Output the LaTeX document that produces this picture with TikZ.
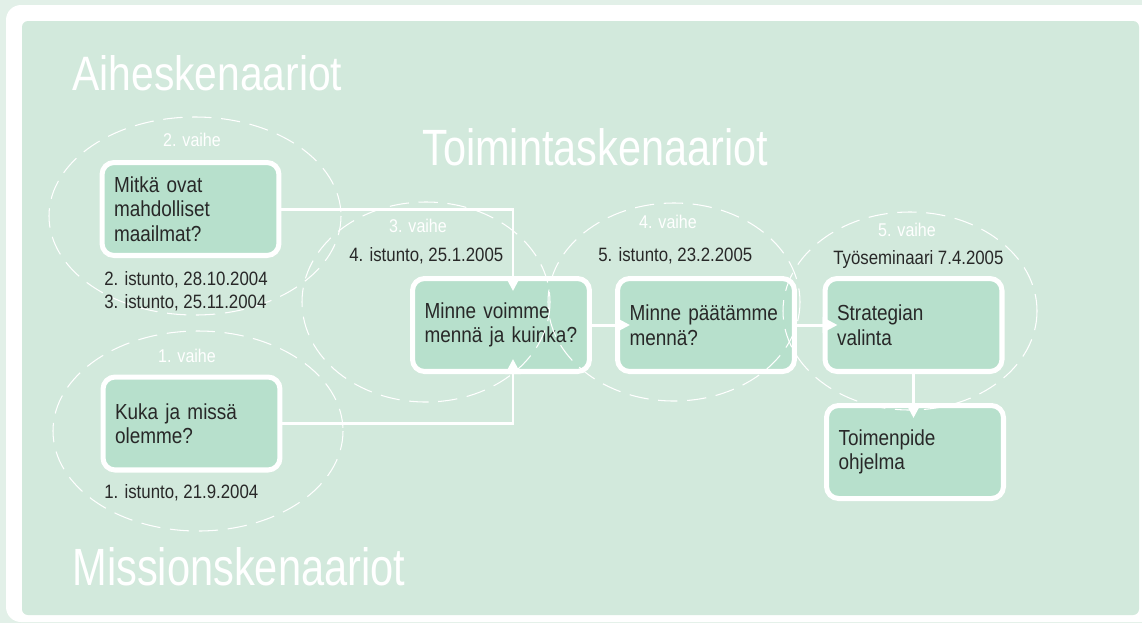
\documentclass[tikz,border=0pt]{standalone}
\usepackage{fontspec}
\setmainfont{Liberation Sans}[FakeStretch=0.87]
\usetikzlibrary{shapes,calc,arrows.meta,positioning}
\definecolor{ulko}{RGB}{226,240,232}
\definecolor{pohja}{RGB}{210,233,220}
\definecolor{laatikko}{RGB}{183,224,204}
\definecolor{teksti}{RGB}{40,40,40}
\newcommand{\Otsikko}[3]{\resizebox{#1}{#2}{#3}}

\begin{document}
\begin{tikzpicture}[x=0.02cm, y=-0.02cm, >={Triangle[width=0.3cm,length=0.3cm]},
    box/.style={draw=white, line width=2.85pt, fill=laatikko, rounded corners=0.24cm, minimum width=3.54cm, minimum height=1.86cm, text width=3.06cm, inner xsep=0.24cm, inner ysep=0pt, align=left, text=teksti, font=\fontsize{12.4}{14}\selectfont},
    link/.style={->, draw=white, line width=1.7pt, shorten >=-0.3cm},
    vaihe/.style={text=white, font=\fontsize{10.5}{12}\selectfont},
    istunto/.style={anchor=west, align=left, inner sep=0pt, text=teksti, font=\fontsize{11}{13}\selectfont},
    rajaus/.style={draw=white, line width=0.6pt, dash pattern=on 11pt off 5.5pt}]

            \useasboundingbox (0,0) rectangle (1142,623);
            \fill[ulko] (0,0) rectangle (1142,623);
            \fill[white, rounded corners=0.3cm] (6,5) rectangle (1170,622);
            \fill[pohja, rounded corners=0.12cm] (22,21) rectangle (1139,615);

            \draw(72,90) node[anchor=base west, inner sep=0pt, text=white] (aihe) {\Otsikko{5.4cm}{0.7cm}{Aiheskenaariot}};
            \draw(422,165) node[anchor=base west, inner sep=0pt, text=white] (toiminta) {\Otsikko{6.92cm}{0.74cm}{Toimintaskenaariot}};
            \draw(72,585) node[anchor=base west, inner sep=0pt, text=white] (missio) {\Otsikko{6.66cm}{0.76cm}{Missionskenaariot}};

            \draw(190.5,209) node[box] (mitka) {Mitkä ovat\\mahdolliset\\maailmat?};
            \draw(191.5,423.5) node[box] (kuka) {Kuka ja missä\\olemme?\\[0.3cm]};
            \draw(501,325) node[box] (voimme) {Minne voimme\\mennä ja kuinka?};
            \draw(706,325) node[box] (paatamme) {Minne päätämme\\mennä?};
            \draw(913.5,325) node[box] (strategia) {Strategian\\valinta};
            \draw(915,452) node[box] (toimenpide) {Toimenpide\\ohjelma};

            \draw[link] (mitka.east) -| ([xshift=0.24cm]voimme.north);
            \draw[link] (kuka.east) -| ([xshift=0.24cm]voimme.south);
            \draw[link] (voimme.east) -- (paatamme.west);
            \draw[link] (paatamme.east) -- (strategia.west);
            \draw[link] (strategia.south) -- (strategia.south |- toimenpide.north);

            \draw[rajaus] (198,431) ellipse [x radius=145, y radius=100];
            \draw[rajaus] (195,216) ellipse [x radius=146, y radius=99];
            \draw[rajaus] (426,302) ellipse [x radius=124, y radius=100];
            \draw[rajaus] (674,302) ellipse [x radius=126, y radius=99];
            \draw[rajaus] (910,311) ellipse [x radius=127, y radius=99];

            \draw(187,356) node[vaihe] (vaihe1) {1. vaihe};
            \draw(192,140) node[vaihe] (vaihe2) {2. vaihe};
            \draw(418,226) node[vaihe] (vaihe3) {3. vaihe};
            \draw(668,222) node[vaihe] (vaihe4) {4. vaihe};
            \draw(907,230) node[vaihe] (vaihe5) {5. vaihe};

            \draw(104,291) node[istunto] (istunto23) {2. istunto, 28.10.2004\\3. istunto, 25.11.2004};
            \draw(104,493) node[istunto] (istunto1) {1. istunto, 21.9.2004};
            \draw(349,256) node[istunto] (istunto4) {4. istunto, 25.1.2005};
            \draw(598,256) node[istunto] (istunto5) {5. istunto, 23.2.2005};
            \draw(833,259) node[istunto] (seminaari) {Työseminaari 7.4.2005};

        \end{tikzpicture}
\end{document}
